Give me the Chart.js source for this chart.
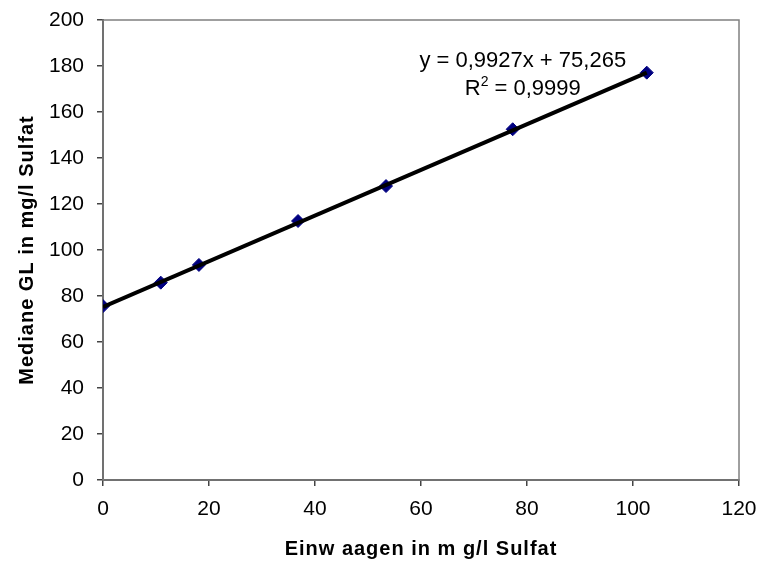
<!DOCTYPE html>
<html>
<head>
<meta charset="utf-8">
<script src="https://cdn.jsdelivr.net/npm/chart.js@4"></script>
<style>
  html, body { margin: 0; padding: 0; background: #fff; }
  #wrap { width: 758px; height: 563px; }
</style>
</head>
<body>
<div id="wrap"><canvas id="chart" width="758" height="563"></canvas></div>
<script>
// Einwaagen (x) vs. Mediane GL (y), mg/l Sulfat
const einwaagen = [0, 10.9, 18.1, 36.8, 53.4, 77.3, 102.6];
const medianeGL = [75.6, 85.8, 93.5, 112.6, 127.8, 152.5, 177.1];

// linear trendline endpoints (y = 0,9927x + 75,265)
const trendX = [0, 102.6];
const trendY = [75.27, 177.12];

const eqText = 'y = 0,9927x + 75,265';
const r2Text = ' = 0,9999';
const xTitle = 'Einw aagen in m g/l Sulfat';
const yTitle = 'Mediane GL in mg/l Sulfat';

const FONT = "'Liberation Sans', Arial, sans-serif";

// grey frame, axis titles (spaced a bit wider, like the original) and equation
const framePlugin = {
  id: 'frame',
  beforeDatasetsDraw(chart) {
    const { ctx, chartArea: a } = chart;
    ctx.save();
    ctx.strokeStyle = '#808080';
    ctx.lineWidth = 1.5;
    ctx.strokeRect(a.left, a.top, a.right - a.left, a.bottom - a.top);
    ctx.restore();
  },
  afterDatasetsDraw(chart) {
    const { ctx, scales, chartArea: a } = chart;

    // axis titles
    ctx.save();
    ctx.fillStyle = '#000';
    ctx.font = 'bold 20px ' + FONT;
    ctx.letterSpacing = '1px';
    ctx.textAlign = 'center';
    ctx.textBaseline = 'middle';
    ctx.fillText(xTitle, (a.left + a.right) / 2, 549);
    ctx.translate(27, (a.top + a.bottom) / 2);
    ctx.rotate(-Math.PI / 2);
    ctx.fillText(yTitle, 0, 0);
    ctx.restore();

    // trendline equation
    const cx = scales.x.getPixelForValue(79.2);
    ctx.save();
    ctx.fillStyle = '#000';
    ctx.font = '22px ' + FONT;
    ctx.textAlign = 'center';
    ctx.textBaseline = 'middle';
    ctx.fillText(eqText, cx, scales.y.getPixelForValue(182.2));
    const y2 = scales.y.getPixelForValue(170.1);
    const wBase = ctx.measureText('R').width;
    ctx.font = '14px ' + FONT;
    const wSup = ctx.measureText('2').width;
    ctx.font = '22px ' + FONT;
    const wRest = ctx.measureText(r2Text).width;
    const x0 = cx - (wBase + wSup + wRest) / 2;
    ctx.textAlign = 'left';
    ctx.fillText('R', x0, y2);
    ctx.font = '14px ' + FONT;
    ctx.fillText('2', x0 + wBase, y2 - 7);
    ctx.font = '22px ' + FONT;
    ctx.fillText(r2Text, x0 + wBase + wSup, y2);
    ctx.restore();
  }
};

new Chart(document.getElementById('chart'), {
  type: 'scatter',
  data: {
    datasets: [
      {
        label: 'Mediane',
        data: einwaagen.map((x, i) => ({ x, y: medianeGL[i] })),
        pointStyle: 'rectRot',
        pointRadius: 6.5,
        pointBackgroundColor: '#000080',
        pointBorderColor: '#000080',
        pointBorderWidth: 1,
        order: 2,
      },
      {
        label: 'Trend',
        data: trendX.map((x, i) => ({ x, y: trendY[i] })),
        showLine: true,
        borderColor: '#000',
        borderWidth: 4,
        pointRadius: 0,
        order: 1,
      }
    ]
  },
  options: {
    responsive: false,
    animation: false,
    layout: { padding: { left: 0, right: 19, top: 20, bottom: 0 } },
    plugins: { legend: { display: false }, tooltip: { enabled: false } },
    scales: {
      x: {
        type: 'linear', min: 0, max: 120,
        ticks: { stepSize: 20, color: '#000', font: { family: FONT, size: 21 }, padding: 11, maxRotation: 0 },
        grid: { drawOnChartArea: false, drawTicks: true, tickLength: 6, color: '#444', lineWidth: 1.5 },
        border: { display: true, color: '#444', width: 2 },
        afterFit: s => { s.height = 83; s.paddingLeft = 0; s.paddingRight = 0; }
      },
      y: {
        type: 'linear', min: 0, max: 200,
        ticks: { stepSize: 20, color: '#000', font: { family: FONT, size: 21 }, padding: 13 },
        grid: { drawOnChartArea: false, drawTicks: true, tickLength: 6, color: '#444', lineWidth: 1.5 },
        border: { display: true, color: '#444', width: 2 },
        afterFit: s => { s.width = 103; s.paddingTop = 0; s.paddingBottom = 0; }
      }
    }
  },
  plugins: [framePlugin]
});
</script>
</body>
</html>
